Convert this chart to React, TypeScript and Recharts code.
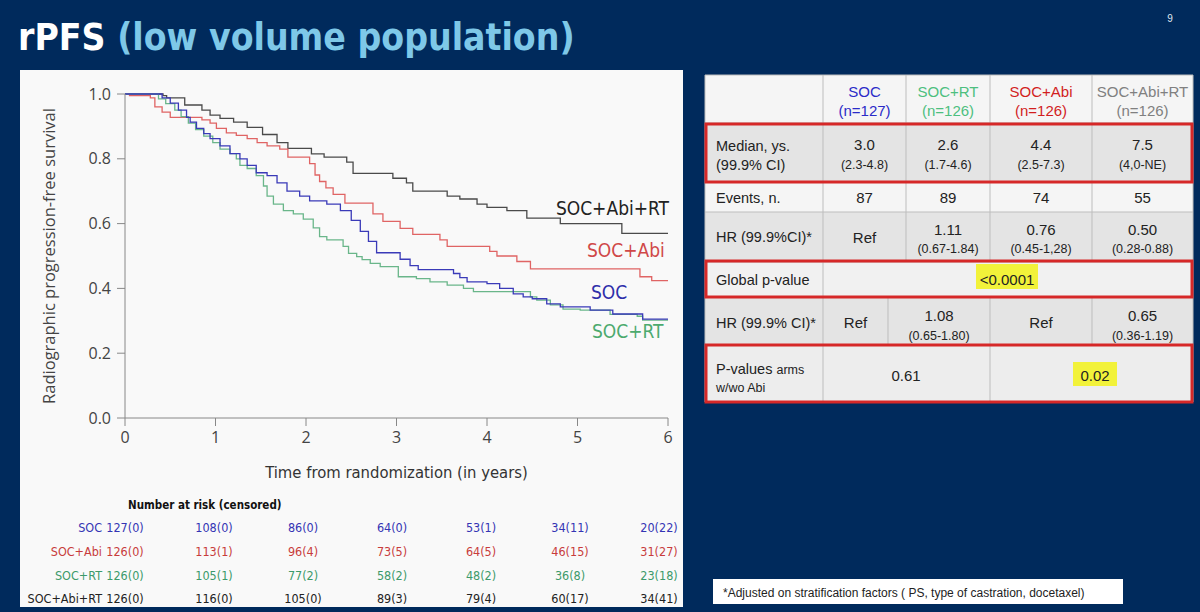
import { LineChart, Line, XAxis, YAxis } from 'recharts'

// survival curves (time in years, survival fraction)
const socTimes = [0, 0.41, 0.5, 0.59, 0.68, 0.72, 0.79, 0.87, 0.94, 1.05, 1.16, 1.27, 1.35, 1.45, 1.57, 1.68, 1.79, 1.93, 2.04, 2.23, 2.38, 2.5, 2.6, 2.69, 2.78, 3.04, 3.15, 3.24, 3.63, 3.7, 3.78, 4.0, 4.14, 4.29, 4.4, 4.5, 4.66, 4.81, 5.14, 5.39, 5.72, 6]
const socSurv = [1, 0.988, 0.972, 0.95, 0.928, 0.913, 0.894, 0.878, 0.862, 0.84, 0.816, 0.8, 0.78, 0.757, 0.748, 0.726, 0.7, 0.685, 0.67, 0.66, 0.64, 0.61, 0.576, 0.545, 0.51, 0.49, 0.47, 0.458, 0.446, 0.433, 0.42, 0.415, 0.4, 0.383, 0.374, 0.368, 0.352, 0.343, 0.333, 0.321, 0.305, 0.305]

const abiTimes = [0, 0.05, 0.28, 0.33, 0.41, 0.5, 0.85, 0.94, 1.01, 1.12, 1.23, 1.35, 1.46, 1.57, 1.71, 1.8, 2.04, 2.1, 2.15, 2.22, 2.3, 2.43, 2.74, 2.85, 3.04, 3.18, 3.48, 3.56, 4.03, 4.11, 4.33, 4.48, 5.69, 5.82, 6]
const abiSurv = [1, 0.995, 0.988, 0.96, 0.944, 0.928, 0.92, 0.91, 0.894, 0.88, 0.872, 0.862, 0.85, 0.84, 0.83, 0.805, 0.785, 0.75, 0.73, 0.71, 0.69, 0.663, 0.63, 0.607, 0.585, 0.567, 0.55, 0.53, 0.514, 0.5, 0.483, 0.46, 0.436, 0.424, 0.424]

const rtTimes = [0, 0.37, 0.45, 0.55, 0.62, 0.7, 0.78, 0.87, 0.97, 1.05, 1.16, 1.23, 1.27, 1.35, 1.45, 1.53, 1.57, 1.64, 1.75, 1.86, 1.97, 2.08, 2.15, 2.23, 2.41, 2.47, 2.56, 2.62, 2.71, 2.82, 3.02, 3.22, 3.37, 3.56, 3.74, 3.85, 4.48, 4.55, 4.7, 4.84, 5.03, 5.36, 5.66, 5.72, 6]
const rtSurv = [1, 0.985, 0.97, 0.95, 0.93, 0.91, 0.89, 0.87, 0.85, 0.83, 0.816, 0.8, 0.78, 0.77, 0.748, 0.716, 0.685, 0.66, 0.64, 0.63, 0.614, 0.587, 0.56, 0.55, 0.53, 0.508, 0.498, 0.489, 0.477, 0.467, 0.436, 0.43, 0.42, 0.41, 0.4, 0.39, 0.374, 0.364, 0.349, 0.336, 0.333, 0.32, 0.314, 0.302, 0.302]

const comboTimes = [0, 0.42, 0.46, 0.66, 0.85, 0.94, 1.05, 1.2, 1.35, 1.52, 1.68, 1.8, 2.06, 2.2, 2.45, 2.52, 2.96, 3.11, 3.18, 3.56, 3.7, 3.89, 4.0, 4.22, 4.44, 4.81, 5.49, 6]
const comboSurv = [1, 0.995, 0.988, 0.966, 0.95, 0.935, 0.925, 0.913, 0.897, 0.875, 0.85, 0.832, 0.815, 0.805, 0.79, 0.755, 0.74, 0.726, 0.7, 0.685, 0.676, 0.66, 0.65, 0.64, 0.617, 0.6, 0.57, 0.57]

const yearTicks = [0, 1, 2, 3, 4, 5, 6]
const survTicks = [0, 0.2, 0.4, 0.6, 0.8, 1.0]

// number at risk (censored)
const riskArms = ['SOC', 'SOC+Abi', 'SOC+RT', 'SOC+Abi+RT']
const riskSoc = ['127(0)', '108(0)', '86(0)', '64(0)', '53(1)', '34(11)', '20(22)']
const riskAbi = ['126(0)', '113(1)', '96(4)', '73(5)', '64(5)', '46(15)', '31(27)']
const riskRt = ['126(0)', '105(1)', '77(2)', '58(2)', '48(2)', '36(8)', '23(18)']
const riskCombo = ['126(0)', '116(0)', '105(0)', '89(3)', '79(4)', '60(17)', '34(41)']

// summary table
const tableArms = ['SOC', 'SOC+RT', 'SOC+Abi', 'SOC+Abi+RT']
const tableN = ['(n=127)', '(n=126)', '(n=126)', '(n=126)']
const medians = ['3.0', '2.6', '4.4', '7.5']
const medianCI = ['(2.3-4.8)', '(1.7-4.6)', '(2.5-7.3)', '(4,0-NE)']
const events = ['87', '89', '74', '55']
const hrVals = ['Ref', '1.11', '0.76', '0.50']
const hrCI = ['', '(0.67-1.84)', '(0.45-1,28)', '(0.28-0.88)']
const hr2Vals = ['Ref', '1.08', 'Ref', '0.65']
const hr2CI = ['', '(0.65-1.80)', '', '(0.36-1.19)']
const pArms = ['0.61', '0.02']
const globalP = '<0.0001'

const pts = (t: number[], s: number[]) => t.map((x, i) => ({ t: x, s: s[i] }))

const NARROW = "'Liberation Sans Narrow', 'DejaVu Sans Condensed', 'Liberation Sans', sans-serif"
const SANS = "'Liberation Sans', Arial, sans-serif"
const OPEN = "'Open Sans', 'Noto Sans', sans-serif"

const armColor = { soc: '#3a3ab8', abi: '#e06464', rt: '#6ab68a', combo: '#4a4a4a' }
const riskColors = ['#3434b4', '#c83c3c', '#3c9a6a', '#222222']
const headColors = ['#2b2bc8', '#4dbf7f', '#d21e1e', '#808080']

const colX = [705, 823, 906, 990, 1092, 1193]
const rowY = [75, 123, 182, 212, 262, 297, 345, 402]
const rowBg = ['#f5f5f5', '#e4e4e4', '#f5f5f5', '#e4e4e4', '#f1f1f1', '#e4e4e4', '#ededed']

function SummaryTable() {
  const mid = (i: number) => (colX[i + 1] + colX[i + 2]) / 2
  const hr2X = [823, 888, 990, 1092, 1193]
  const hr2Mid = (i: number) => (hr2X[i] + hr2X[i + 1]) / 2
  const lines: JSX.Element[] = []
  // horizontal + vertical grid
  rowY.forEach((y, i) => lines.push(<line key={'h' + i} x1={705} x2={1193} y1={y} y2={y} stroke="#bdbdbd" />))
  const vert = (x: number, y1: number, y2: number, k: string) => (
    <line key={k} x1={x} x2={x} y1={y1} y2={y2} stroke="#bdbdbd" />
  )
  ;[705, 823, 1193].forEach((x, i) => lines.push(vert(x, 75, 402, 'v' + i)))
  ;[906, 990, 1092].forEach((x, i) => lines.push(vert(x, 75, 262, 'w' + i)))
  ;[888, 990, 1092].forEach((x, i) => lines.push(vert(x, 297, 345, 'x' + i)))
  lines.push(vert(990, 345, 402, 'y0'))

  return (
    <g fontFamily={SANS} fill="#222">
      {rowBg.map((c, i) => (
        <rect key={i} x={705} y={rowY[i]} width={488} height={rowY[i + 1] - rowY[i]} fill={c} />
      ))}
      {lines}
      {tableArms.map((a, i) => (
        <text key={a} x={mid(i)} textAnchor="middle" fill={headColors[i]} fontSize={15}>
          <tspan x={mid(i)} y={97}>{a}</tspan>
          <tspan x={mid(i)} y={116}>{tableN[i]}</tspan>
        </text>
      ))}
      <text x={716} y={151} fontSize={14.5}>Median, ys.</text>
      <text x={716} y={170} fontSize={14.5}>(99.9% CI)</text>
      {medians.map((m, i) => (
        <g key={i}>
          <text x={mid(i)} y={150} textAnchor="middle" fontSize={15}>{m}</text>
          <text x={mid(i)} y={169} textAnchor="middle" fontSize={12.5}>{medianCI[i]}</text>
        </g>
      ))}
      <text x={716} y={203} fontSize={14.5}>Events, n.</text>
      {events.map((e, i) => (
        <text key={i} x={mid(i)} y={203} textAnchor="middle" fontSize={15}>{e}</text>
      ))}
      <text x={716} y={242} fontSize={14.5}>HR (99.9%CI)*</text>
      {hrVals.map((v, i) => (
        <g key={i}>
          <text x={mid(i)} y={hrCI[i] ? 235 : 243} textAnchor="middle" fontSize={15}>{v}</text>
          <text x={mid(i)} y={253} textAnchor="middle" fontSize={12.5}>{hrCI[i]}</text>
        </g>
      ))}
      <text x={716} y={285} fontSize={14.5}>Global p-value</text>
      <rect x={976} y={264} width={62} height={25} fill="#f2f23a" />
      <text x={1007} y={285} textAnchor="middle" fontSize={15}>{globalP}</text>
      <text x={716} y={328} fontSize={14.5}>HR (99.9% CI)*</text>
      {hr2Vals.map((v, i) => (
        <g key={i}>
          <text x={hr2Mid(i)} y={hr2CI[i] ? 321 : 328} textAnchor="middle" fontSize={15}>{v}</text>
          <text x={hr2Mid(i)} y={340} textAnchor="middle" fontSize={12.5}>{hr2CI[i]}</text>
        </g>
      ))}
      <text x={716} y={374} fontSize={14.5}>
        P-values <tspan fontSize={12.5}>arms</tspan>
      </text>
      <text x={716} y={392} fontSize={12.5}>w/wo Abi</text>
      <text x={906} y={381} textAnchor="middle" fontSize={15}>{pArms[0]}</text>
      <rect x={1073} y={362} width={44} height={24} fill="#f2f23a" />
      <text x={1095} y={381} textAnchor="middle" fontSize={15}>{pArms[1]}</text>
      {/* red highlight frames */}
      <rect x={706} y={124} width={486} height={58} fill="none" stroke="#d62828" strokeWidth={3} />
      <rect x={706} y={261} width={486} height={36} fill="none" stroke="#d62828" strokeWidth={3} />
      <rect x={706} y={345} width={486} height={57} fill="none" stroke="#d62828" strokeWidth={3} />
    </g>
  )
}

export default function App() {
  const riskRows = [riskSoc, riskAbi, riskRt, riskCombo]
  const riskY = [532, 556, 580, 603]
  return (
    <div style={{ position: 'fixed', left: 0, top: 0, width: 1200, height: 612, background: '#002a5c', overflow: 'hidden' }}>
      <div style={{ position: 'absolute', left: 20, top: 70, width: 663, height: 537, background: '#f9f9f9' }} />
      <div style={{ position: 'absolute', left: 20, top: 70 }}>
        <LineChart width={663} height={420} margin={{ top: 24, right: 15, bottom: 5, left: 0 }}>
          <XAxis
            type="number"
            dataKey="t"
            domain={[0, 6]}
            ticks={yearTicks}
            allowDataOverflow
            tickSize={8}
            tickMargin={6}
            stroke="#888"
            tick={{ fill: '#444', fontSize: 16, fontFamily: OPEN }}
            height={67}
            label={{ value: 'Time from randomization (in years)', position: 'insideBottom', offset: 7, fill: '#333', fontSize: 16.5, fontFamily: NARROW }}
          />
          <YAxis
            type="number"
            dataKey="s"
            domain={[0, 1]}
            ticks={survTicks}
            tickFormatter={(v: number) => v.toFixed(1)}
            width={105}
            tickSize={8}
            tickMargin={6}
            stroke="#888"
            tick={{ fill: '#444', fontSize: 16, fontFamily: OPEN }}
            label={{ value: 'Radiographic progression-free survival', angle: -90, position: 'insideLeft', offset: 29, fill: '#444', fontSize: 16.5, fontFamily: OPEN, style: { textAnchor: 'middle' } }}
          />
          <Line data={pts(comboTimes, comboSurv)} dataKey="s" type="stepAfter" stroke={armColor.combo} strokeWidth={1.3} dot={false} isAnimationActive={false} />
          <Line data={pts(abiTimes, abiSurv)} dataKey="s" type="stepAfter" stroke={armColor.abi} strokeWidth={1.3} dot={false} isAnimationActive={false} />
          <Line data={pts(rtTimes, rtSurv)} dataKey="s" type="stepAfter" stroke={armColor.rt} strokeWidth={1.3} dot={false} isAnimationActive={false} />
          <Line data={pts(socTimes, socSurv)} dataKey="s" type="stepAfter" stroke={armColor.soc} strokeWidth={1.3} dot={false} isAnimationActive={false} />
        </LineChart>
      </div>
      <svg width={1200} height={612} style={{ position: 'absolute', left: 0, top: 0, pointerEvents: 'none' }}>
        <text x={18} y={50} fontFamily={NARROW} fontWeight="bold" fontSize={37} fill="#ffffff">
          rPFS <tspan fill="#7ec8e8">(low volume population)</tspan>
        </text>
        <text x={1170} y={22} fontFamily={SANS} fontSize={10} fill="#dfe6f0" textAnchor="middle">9</text>

        {/* curve labels */}
        <g fontFamily={NARROW} fontSize={19}>
          <text x={669} y={215} textAnchor="end" fill="#222">SOC+Abi+RT</text>
          <text x={587} y={257} fill="#d04848">SOC+Abi</text>
          <text x={591} y={299} fill="#2e2eaa">SOC</text>
          <text x={592} y={338} fill="#4caa6e">SOC+RT</text>
        </g>

        {/* number at risk */}
        <g fontFamily={NARROW} fontSize={12.5}>
          <text x={128} y={509} fontWeight="bold" fontSize={11.5} fill="#111">Number at risk (censored)</text>
          {riskArms.map((a, r) => (
            <g key={a} fill={riskColors[r]}>
              <text x={102} y={riskY[r]} textAnchor="end">{a}</text>
              {riskRows[r].map((v, i) => (
                <text key={i} x={125 + 89 * i} y={riskY[r]} textAnchor="middle">{v}</text>
              ))}
            </g>
          ))}
        </g>

        <SummaryTable />

        <rect x={713} y={579} width={410} height={25} fill="#ffffff" />
        <text x={723} y={597} fontFamily={SANS} fontSize={12} fill="#222">
          *Adjusted on stratification factors ( PS, type of castration, docetaxel)
        </text>
      </svg>
    </div>
  )
}
